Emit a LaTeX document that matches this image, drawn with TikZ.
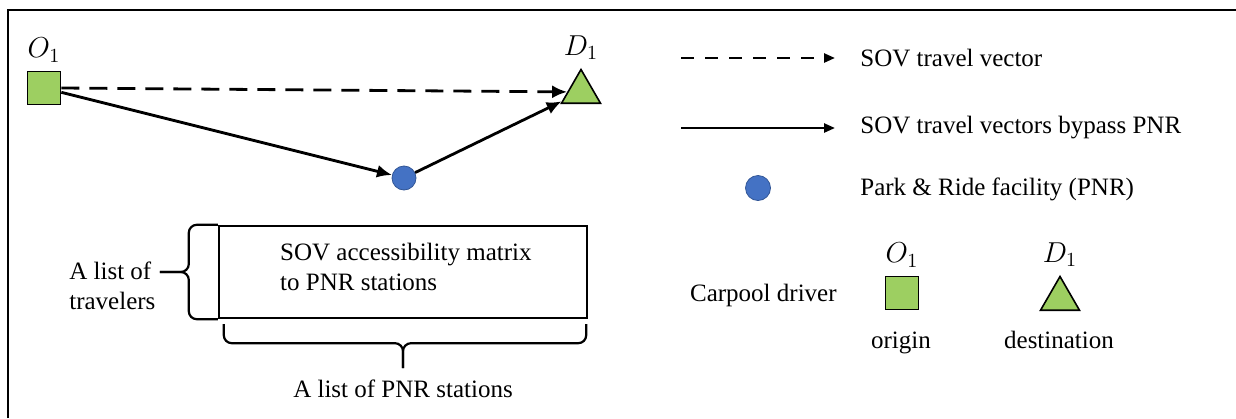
\documentclass[tikz,border=0pt]{standalone}
\usepackage{fontspec}
\setmainfont{Liberation Serif}
\usepackage{tikz}
\usetikzlibrary{arrows.meta,positioning,shapes.geometric}

\definecolor{odgreen}{RGB}{157,207,97}
\definecolor{pnrblue}{RGB}{68,114,196}
\definecolor{pnredge}{RGB}{50,86,150}

\begin{document}
\begin{tikzpicture}[
    x=0.5pt, y=-0.5pt,
    txt/.style={font=\fontsize{12.5}{15}\selectfont, inner sep=1pt},
    odlabel/.style={font=\fontsize{14}{16}\selectfont, inner sep=0pt},
    origin/.style={draw, fill=odgreen, line width=0.8pt, minimum size=16.5pt, inner sep=0pt},
    dest/.style={draw, fill=odgreen, line width=0.8pt, regular polygon, regular polygon sides=3, minimum size=22.5pt, inner sep=0pt},
    pnr/.style={draw=pnredge, fill=pnrblue, line width=0.4pt, circle, minimum size=12pt, inner sep=0pt},
    matbox/.style={draw, line width=1.2pt, minimum width=184pt, minimum height=46pt, inner sep=0pt},
    arrow/.style={-{Latex[length=7.5pt,width=6.5pt]}, line width=1.4pt},
    dasharrow/.style={arrow, dash pattern=on 9pt off 5pt},
    legarrow/.style={-{Triangle[length=5.5pt,width=4.5pt]}, line width=1.2pt},
    legdash/.style={legarrow, dash pattern=on 6.5pt off 5.5pt},
    brace/.style={line width=1.1pt, rounded corners=4pt},
    frame/.style={line width=1.3pt}
]
\useasboundingbox (0,0) rectangle (1236,418);
\draw[frame] (8,418) -- (8,10) -- (1236,10);

% trip of one driver
\node[origin] (o1) at (44,88) {};
\node[odlabel, above=4pt of o1] (o1lab) {$O_1$};
\node[dest] (d1) at (581,92) {};
\node[odlabel, above=4pt of d1] (d1lab) {$D_1$};
\node[pnr] (pnr) at (404,178) {};

\draw[dasharrow] (o1.east) -- (d1);
\draw[arrow] (o1) -- (pnr);
\draw[arrow] (pnr) -- (d1);

% accessibility matrix
\node[matbox] (mat) at (403,272) {};
\node[txt, align=left, anchor=west] (mattxt) at ([xshift=30pt, yshift=2.5pt]mat.west) {SOV accessibility matrix\\to PNR stations};
\draw[brace] (mat.north west) -- ([xshift=-14.5pt]mat.north west) -- ([xshift=-14.5pt]mat.west) -- ([xshift=-29pt]mat.west);
\draw[brace] (mat.south west) -- ([xshift=-14.5pt]mat.south west) -- ([xshift=-14.5pt]mat.west) -- ([xshift=-29pt]mat.west);
\node[txt, align=left, left=30pt of mat.west, yshift=-7pt] (trav) {A list of\\travelers};
\draw[brace] ([shift={(6,5)}]mat.south west) -- ([shift={(6,24)}]mat.south west) -- ([yshift=-12pt]mat.south) -- ([yshift=-24.5pt]mat.south);
\draw[brace] ([shift={(-2,5)}]mat.south east) -- ([shift={(-2,24)}]mat.south east) -- ([yshift=-12pt]mat.south) -- ([yshift=-24.5pt]mat.south);
\node[txt, below=29pt of mat.south] (stations) {A list of PNR stations};

% legend
\coordinate (dashs) at (681,58);
\coordinate (dashe) at (835,58);
\draw[legdash] (dashs) -- (dashe);
\node[txt, anchor=west] (leg1) at (858,58) {SOV travel vector};
\coordinate (sols) at (681,128);
\coordinate (sole) at (835,128);
\draw[legarrow] (sols) -- (sole);
\node[txt, anchor=west] (leg2) at (858,128) {SOV travel vectors bypass PNR};
\node[pnr, minimum size=12.5pt] (legpnr) at (758,188) {};
\node[txt, anchor=west] (leg3) at (858,189) {Park \& Ride facility (PNR)};

\node[txt, anchor=east] (carpool) at (839,295) {Carpool driver};
\node[origin] (lego) at (902,293) {};
\node[odlabel, above=4pt of lego] (legolab) {$O_1$};
\node[dest] (legd) at (1060,299) {};
\node[odlabel, above=4pt of legd] (legdlab) {$D_1$};
\node[txt, anchor=base] (orig) at (901,348) {origin};
\node[txt, anchor=base] (destn) at (1059,348) {destination};
\end{tikzpicture}
\end{document}
